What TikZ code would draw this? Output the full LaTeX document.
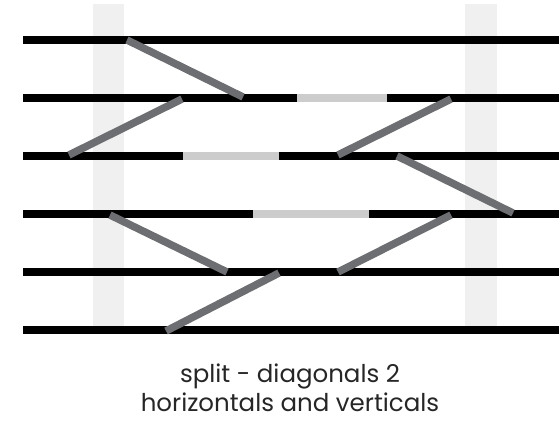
\documentclass[tikz,border=0pt]{standalone}
\usepackage{fontspec}
\setmainfont{Poppins}
\definecolor{bandgray}{HTML}{F0F0F0}
\definecolor{gapgray}{HTML}{CCCCCC}
\definecolor{linkgray}{HTML}{6D6E71}

\begin{document}
\begin{tikzpicture}[x=1pt, y=-1pt,
    band/.style={fill=bandgray},                 % pale vertical strips
    track/.style={line width=8.5pt, black},      % horizontal bars
    gap/.style={line width=8.5pt, gapgray},      % missing part of a bar
    link/.style={line width=7.5pt, linkgray},    % diagonal joins
    caption/.style={font=\fontsize{24.5}{29}\selectfont, align=center, text=black!85}
    ]
    \useasboundingbox (0,0) rectangle (559,423);

    % strips behind everything
    \fill[band] (93,4) rectangle (124,327);
    \fill[band] (465,4) rectangle (497,327);

    % bars
    \foreach \y in {40,98,156,214,272,330}
        \draw[track] (23,\y) -- (559,\y);
    \draw[gap] (297,98) -- (387,98);
    \draw[gap] (183,156) -- (279,156);
    \draw[gap] (253,214) -- (369,214);

    % diagonals
    \draw[link] (127,40) -- (243,97);
    \draw[link] (182,99) -- (69,155);
    \draw[link] (451,99) -- (338,155);
    \draw[link] (397,156) -- (513,213);
    \draw[link] (110,215) -- (227,272);
    \draw[link] (451,215) -- (338,272);
    \draw[link] (279,273) -- (166,331);

    \node[caption] (title) at (290,388) {split - diagonals 2\\horizontals and verticals};
\end{tikzpicture}
\end{document}
